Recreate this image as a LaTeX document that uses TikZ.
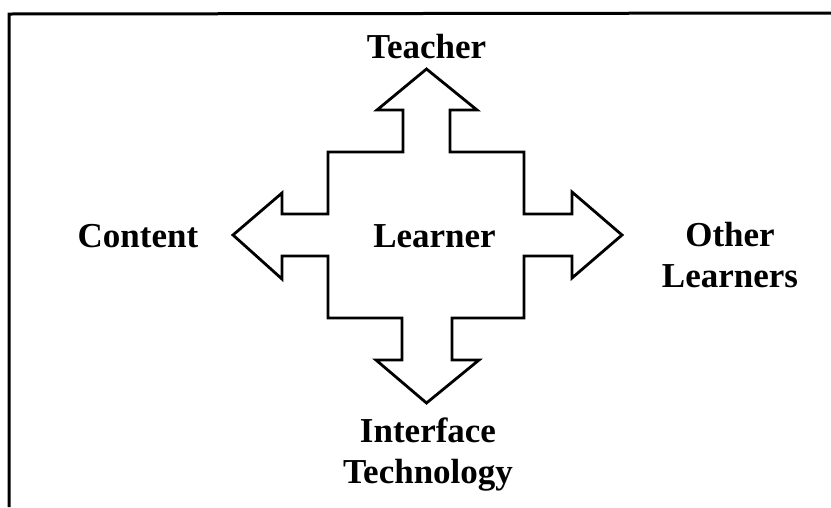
\documentclass[tikz,border=0pt]{standalone}
\usepackage{fontspec}
\setmainfont{Liberation Serif}
\begin{document}
\begin{tikzpicture}[x=1pt,y=-1pt,
  lbl/.style={font=\bfseries\fontsize{35}{41}\selectfont, inner sep=0pt, align=center},
  outline/.style={line width=2.8pt, line join=miter, draw=black}]
\useasboundingbox (0,0) rectangle (831,507);
% frame
\draw[line width=3pt] (9,507) -- (9,14) -- (831,13);
% cross of arrows
\draw[outline]
  (426.5,69) -- (477,110) -- (450,110) -- (450,152) -- (524,152) -- (524,214)
  -- (572,214) -- (572,192) -- (622,235) -- (572,278) -- (572,256) -- (524,256)
  -- (524,318) -- (452,318) -- (452,360) -- (479,360) -- (426.5,403) -- (376,360)
  -- (402,360) -- (402,318) -- (328,318) -- (328,256) -- (282,256) -- (282,279)
  -- (233,235) -- (282,193) -- (282,214) -- (328,214) -- (328,152) -- (403,152)
  -- (403,110) -- (377,110) -- cycle;
% labels
\node[lbl, anchor=base] (teacher) at (426.5,58) {Teacher};
\node[lbl, anchor=base] (content) at (138,247) {Content};
\node[lbl, anchor=base] (learner) at (434.5,247) {Learner};
\node[lbl, anchor=base] (others) at (730,287) {Other\\Learners};
\node[lbl, anchor=base] (iface) at (428,483) {Interface\\Technology};
\end{tikzpicture}
\end{document}
